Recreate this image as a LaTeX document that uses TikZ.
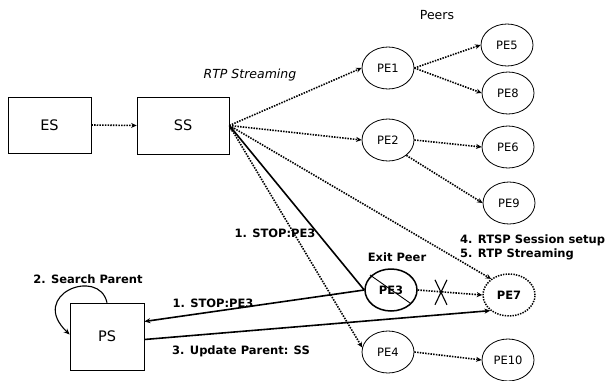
\documentclass[tikz,border=0pt]{standalone}
\usepackage{fontspec}
\setmainfont{DejaVu Sans}
\usetikzlibrary{arrows.meta,shapes.geometric,calc}
\begin{document}
\begin{tikzpicture}[x=1pt,y=-1pt,
  box/.style={draw,line width=0.7pt,inner sep=0,font=\fontsize{14.5}{16}\selectfont},
  peer/.style={draw,ellipse,line width=0.8pt,minimum width=52pt,minimum height=42pt,inner sep=0,font=\fontsize{11.5}{13}\selectfont},
  dots/.style={line width=1.6pt,dash pattern=on 1.5pt off 1.2pt,-{Stealth[length=5.5pt,width=5pt]}},
  solidarr/.style={line width=1.6pt,-{Stealth[length=6pt,width=5pt]}},
  lbl/.style={font=\fontsize{11.5}{13}\selectfont\bfseries,inner sep=0},
  plain/.style={font=\fontsize{12.5}{14}\selectfont,inner sep=0},
]
\useasboundingbox (0,0) rectangle (607,380);
% boxes
\node[box,minimum width=83pt,minimum height=56pt] (es) at (49.5,125) {ES};
\node[box,minimum width=92pt,minimum height=57pt] (ss) at (183,125.5) {SS};
\node[box,minimum width=74pt,minimum height=67pt] (ps) at (107,336.5) {PS};
% peers
\node[peer] (pe1) at (388,68) {PE1};
\node[peer] (pe2) at (388,140) {PE2};
\node[peer,line width=1.5pt,font=\fontsize{11.5}{13}\selectfont\bfseries] (pe3) at (391,290) {PE3};
\node[peer] (pe4) at (388,352) {PE4};
\node[peer] (pe5) at (507,45) {PE5};
\node[peer] (pe8) at (508,93) {PE8};
\node[peer] (pe6) at (508,147) {PE6};
\node[peer] (pe9) at (509,203) {PE9};
\node[peer,line width=1.5pt,dash pattern=on 1.4pt off 1.2pt,font=\fontsize{11.5}{13}\selectfont\bfseries] (pe7) at (509,295) {PE7};
\node[peer] (pe10) at (508,360) {PE10};
% texts
\node[plain] (peers) at (437,15) {Peers};
\node[plain,font=\fontsize{12.5}{14}\selectfont\itshape] (rtp) at (250,75) {RTP Streaming};
\node[lbl] (stop1) at (275,233) {1. STOP:PE3};
\node[lbl] (search) at (88,279) {2. Search Parent};
\node[lbl] (stop2) at (213,303) {1. STOP:PE3};
\node[lbl,anchor=west] (upd) at (172,351) {3. Update Parent: SS};
\node[lbl] (exit) at (397,257) {Exit Peer};
\node[lbl,anchor=west] (rtsp) at (460,240) {4. RTSP Session setup};
\node[lbl,anchor=west] (rtps) at (460,254) {5. RTP Streaming};
% dotted connectors
\draw[dots] (es.east) -- (ss.west);
\draw[dots] (ss.east) -- (pe1.west);
\draw[dots] (ss.east) -- (pe2.west);
\draw[dots] (ss.east) -- (pe7.138);
\draw[dots] (ss.east) -- (pe4.170);
\draw[dots] (pe1.east) -- (pe5.west);
\draw[dots] (pe1.east) -- (pe8.west);
\draw[dots] (pe2.east) -- (pe6.west);
\draw[dots] (pe2.-40) -- (pe9.west);
\draw[dots] (pe3.east) -- (pe7.west);
\draw[dots] (pe4.east) -- (pe10.west);
% solid connectors
\draw[solidarr] (pe3.west) -- (ss.east);
\draw[solidarr] (pe3.west) -- ($(ps.east)+(0,-15)$);
\draw[solidarr] ($(ps.east)+(0,3)$) -- (pe7.220);
\draw[line width=1.1pt,-{Stealth[length=6pt,width=5pt]}] (ps.north) .. controls +(-8,-36) and +(-42,-40) .. ($(ps.west)+(0,-2)$);
% cross-out marks
\draw[line width=0.9pt] ($(pe3)+(-21,-15)$) -- ($(pe3)+(19,13)$);
\coordinate (xm) at ($(pe3.east)!0.36!(pe7.west)$);
\draw[line width=1.1pt] ($(xm)+(-6,-12)$) -- ($(xm)+(6,13)$);
\draw[line width=1.1pt] ($(xm)+(6,-12)$) -- ($(xm)+(-6,13)$);
\end{tikzpicture}
\end{document}
